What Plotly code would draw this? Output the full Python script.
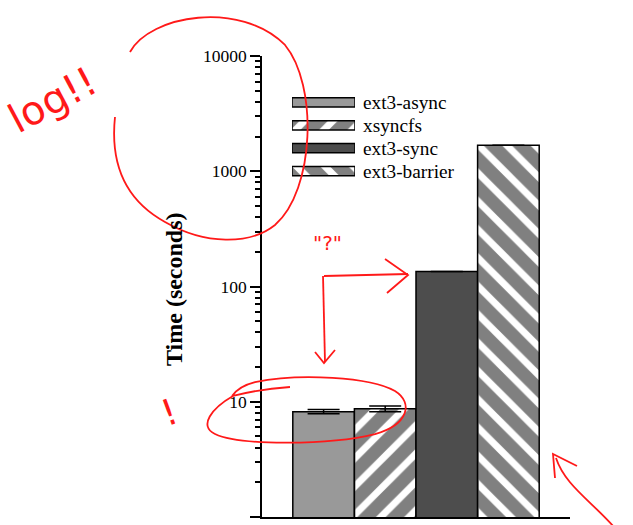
import plotly.graph_objects as go

# ---------------- data ----------------
categories = ["ext3-async", "xsyncfs", "ext3-sync", "ext3-barrier"]
times = [8.2, 8.7, 135, 1680]
errors = [0.35, 0.5, None, None]
fills = ["#999999", "#808080", "#4d4d4d", "#808080"]
patterns = ["", "/", "", "\\"]
stripe_bg = ["white", "white", "white", "white"]
legend_len = [1, 1, 1, 1]
tick_vals = [1, 10, 100, 1000, 10000]
tick_text = ["1", "10", "100", "1000", "10000"]
minor_vals = [m * 10 ** k for k in range(4) for m in range(2, 10)]
y_title = "<b>Time (seconds)</b>"

# ---------------- geometry helpers (pixel -> paper) ----------------
L, R, T, B = 262, 570, 56, 517
W, H = R - L, B - T


def px(x):
    return (x - L) / W


def py(y):
    return (B - y) / H


def P(*segs):
    s = ""
    for cmd, *pts in segs:
        s += cmd + " ".join(f"{px(x):.4f},{py(y):.4f}" for x, y in pts) + " "
    return s.strip()


marker = dict(
    color=fills,
    line=dict(color="black", width=1.5),
    pattern=dict(shape=patterns, fgcolor=fills, bgcolor=stripe_bg,
                 fgopacity=1, size=20, solidity=0.65, fillmode="replace"),
)

fig = go.Figure()
fig.add_trace(go.Bar(
    x=categories, y=times, width=1, marker=marker, showlegend=False,
    error_y=dict(type="data", array=errors, color="black", thickness=1.5, width=16),
))
# legend swatches
fig.add_trace(go.Bar(
    x=legend_len, y=categories, orientation="h", width=0.4, marker=marker,
    xaxis="x2", yaxis="y2", showlegend=False, hoverinfo="skip",
))

serif = "Liberation Serif"
fig.update_layout(
    width=633, height=525,
    margin=dict(l=L, r=633 - R, t=T, b=525 - B, pad=0),
    paper_bgcolor="white", plot_bgcolor="rgba(0,0,0,0)",
    font=dict(family=serif, color="black", size=17),
    xaxis=dict(range=[-1, 4], showline=True, linecolor="black", linewidth=1.5,
               ticks="", showticklabels=False, showgrid=False, zeroline=False),
    yaxis=dict(type="log", range=[0, 4], tickmode="array",
               tickvals=tick_vals, ticktext=tick_text,
               showline=True, linecolor="black", linewidth=1.5,
               ticks="outside", ticklen=10, tickwidth=1.5, tickcolor="black",
               tickfont=dict(size=17.5, family=serif),
               minor=dict(tickmode="array", tickvals=minor_vals,
                          ticks="outside", ticklen=5, tickwidth=1.5,
                          tickcolor="black", showgrid=False),
               showgrid=False, zeroline=False),
    xaxis2=dict(domain=[px(292), px(355)], range=[0, 1], anchor="y2",
                visible=False),
    yaxis2=dict(domain=[py(182.5), py(91)], anchor="x2", side="right",
                type="category", autorange="reversed", showline=False,
                tickmode="array", tickvals=categories, ticktext=categories,
                ticks="", showgrid=False, zeroline=False,
                ticklabelstandoff=7, tickfont=dict(size=19.3, family=serif)),
)

# y-axis title
fig.add_annotation(text=y_title, x=px(174), y=py(289), xref="paper", yref="paper",
                   xanchor="center", yanchor="middle", showarrow=False,
                   textangle=-90, font=dict(size=24, family=serif, color="black"))

# ---------------- red hand-drawn annotations ----------------
red = "rgb(255,25,25)"
line = dict(color=red, width=1.8)
strokes = [
    # big circle around the log axis top
    P(("M", (130, 52)), ("C", (150, 15), (240, 0), (285, 45)),
      ("C", (318, 85), (315, 190), (275, 225)),
      ("C", (250, 245), (205, 245), (165, 222)),
      ("C", (125, 200), (110, 165), (115, 117))),
    # ellipse around the small bars
    P(("M", (290, 387)), ("Q", (260, 389), (233, 396)),
      ("C", (212, 408), (198, 426), (215, 434)),
      ("C", (240, 446), (330, 445), (375, 434)),
      ("C", (408, 425), (414, 403), (395, 391)),
      ("C", (370, 377), (300, 373), (255, 382)),
      ("C", (243, 385), (236, 390), (232, 396))),
    # "?" arrows
    P(("M", (324, 276)), ("L", (408, 274))),
    P(("M", (385, 259)), ("L", (408, 275)), ("L", (387, 293))),
    P(("M", (323, 276)), ("L", (325, 362))),
    P(("M", (315, 352)), ("L", (324, 363)), ("L", (335, 350))),
    # bottom-right arrow
    P(("M", (614, 527)), ("C", (590, 500), (565, 485), (556, 458))),
    P(("M", (555, 478)), ("L", (553, 454)), ("L", (577, 466))),
]
for s in strokes:
    fig.add_shape(type="path", path=s, xref="paper", yref="paper",
                  line=line, layer="above")

for txt, x, y, size, ang in [("log!!", 52, 100, 40, -28),
                             ('"?"', 327, 243, 20, 0),
                             ("!", 169, 412, 36, -20)]:
    fig.add_annotation(text=txt, x=px(x), y=py(y), xref="paper", yref="paper",
                       xanchor="center", yanchor="middle",
                       showarrow=False, textangle=ang,
                       font=dict(family="DejaVu Sans", size=size, color=red))

fig.write_html("out.html", config={"displayModeBar": False},
               post_script="document.body.style.margin='0px';")
